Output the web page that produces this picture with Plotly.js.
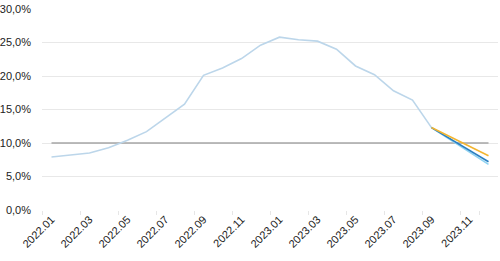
<!DOCTYPE html>
<html>
<head>
<meta charset="utf-8">
<script src="https://cdn.plot.ly/plotly-3.0.1.min.js"></script>
<style>html,body{margin:0;padding:0;background:#fff;}#chart{width:500px;height:261px;}</style>
</head>
<body>
<div id="chart"></div>
<script>
const months = ["2022.01","2022.02","2022.03","2022.04","2022.05","2022.06","2022.07","2022.08","2022.09","2022.10","2022.11","2022.12",
                "2023.01","2023.02","2023.03","2023.04","2023.05","2023.06","2023.07","2023.08","2023.09","2023.10","2023.11","2023.12"];
const actual = [7.9,8.2,8.5,9.3,10.4,11.7,13.8,15.8,20.1,21.2,22.6,24.6,25.8,25.4,25.2,24.0,21.5,20.2,17.8,16.4,12.3];
const targetLevel = [10,10,10,10,10,10,10,10,10,10,10,10,10,10,10,10,10,10,10,10,10,10,10,10];
const forecastMonths = ["2023.09","2023.10","2023.11","2023.12"];
const forecastLight = [12.3,10.5,8.6,6.8];
const forecastDark = [12.3,10.6,8.9,7.2];
const forecastOrange = [12.3,10.9,9.5,8.1];

const traces = [
  {x: months, y: targetLevel, type: 'scatter', mode: 'lines', line: {color: '#a6a6a6', width: 1.6}, hoverinfo: 'skip'},
  {x: months.slice(0, actual.length), y: actual, type: 'scatter', mode: 'lines', line: {color: '#bcd6ea', width: 1.6}},
  {x: forecastMonths, y: forecastLight, type: 'scatter', mode: 'lines', line: {color: '#8fd3f2', width: 1.6}},
  {x: forecastMonths, y: forecastDark, type: 'scatter', mode: 'lines', line: {color: '#2a7fc1', width: 1.6}},
  {x: forecastMonths, y: forecastOrange, type: 'scatter', mode: 'lines', line: {color: '#f2b531', width: 1.6}}
];

const layout = {
  width: 500, height: 261,
  margin: {l: 42, r: 2, t: 9, b: 51, pad: 0},
  paper_bgcolor: '#fff', plot_bgcolor: '#fff',
  showlegend: false,
  separators: ', ',
  font: {family: 'Liberation Sans, Arial, sans-serif', size: 11, color: '#222'},
  xaxis: {
    type: 'category',
    categoryorder: 'array', categoryarray: months,
    range: [-0.5, 23.5],
    tickmode: 'array', tickvals: months.filter((m, i) => i % 2 === 0),
    tickson: 'boundaries',
    ticks: 'outside', ticklen: 4, tickcolor: '#e6e6e6', tickwidth: 1,
    tickangle: -45,
    showgrid: false, showline: false, zeroline: false,
    tickfont: {size: 11, color: '#222'}
  },
  yaxis: {
    range: [0, 30], dtick: 5,
    tickformat: '.1f', ticksuffix: '%',
    showgrid: true, gridcolor: '#e8e8e8', gridwidth: 1,
    zeroline: false, showline: false,
    ticks: '', ticklabelstandoff: 10,
    tickfont: {size: 11, color: '#222'}
  }
};

Plotly.newPlot('chart', traces, layout, {staticPlot: true, displayModeBar: false});
</script>
</body>
</html>
